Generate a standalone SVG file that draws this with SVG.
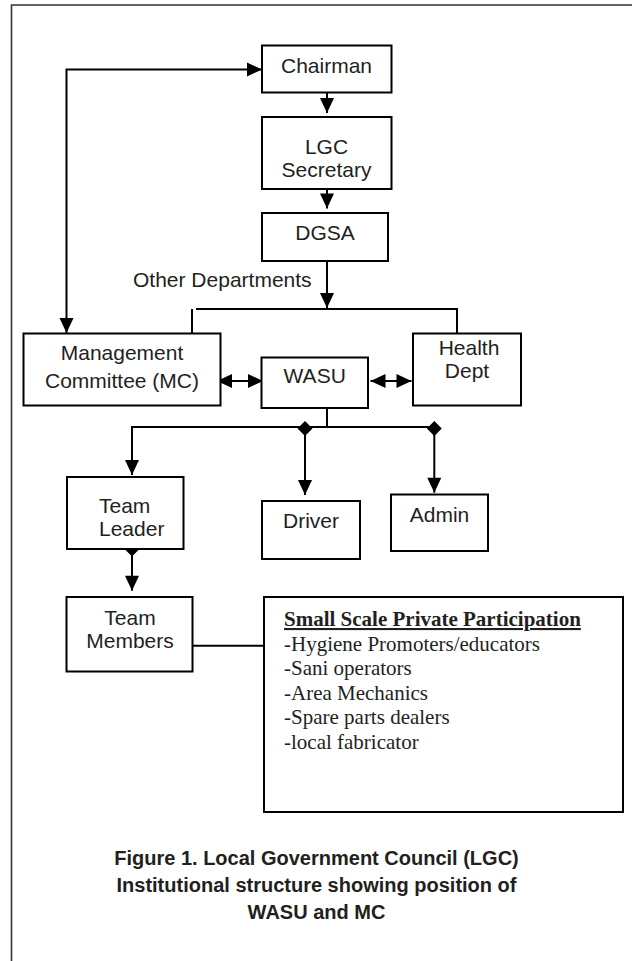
<svg xmlns="http://www.w3.org/2000/svg" width="632" height="961" viewBox="0 0 632 961">
<style>
.box{fill:#fff;stroke:#000;stroke-width:2}
.t{font-family:"Liberation Sans",Arial,sans-serif;font-size:21px;fill:#231f20}
.tm{text-anchor:middle}
.s{font-family:"Liberation Serif","Times New Roman",serif;font-size:21px;fill:#231f20}
.cap{font-family:"Liberation Sans",Arial,sans-serif;font-size:20px;font-weight:bold;fill:#231f20;text-anchor:middle}
.ln{fill:none;stroke:#000;stroke-width:2}
.ar{marker-end:url(#arrow)}
.dar{marker-start:url(#arrow);marker-end:url(#arrow)}
.dm{marker-start:url(#diamond);marker-end:url(#arrow)}
</style>
<defs>
<marker id="arrow" markerUnits="userSpaceOnUse" markerWidth="15" markerHeight="14" refX="15" refY="7" orient="auto-start-reverse" overflow="visible">
<path d="M0,0 L15,7 L0,14 Z" fill="#000"/>
</marker>
<marker id="diamond" markerUnits="userSpaceOnUse" markerWidth="15" markerHeight="15" refX="7.5" refY="7.5" orient="auto" overflow="visible">
<path d="M0,7.5 L7.5,0 L15,7.5 L7.5,15 Z" fill="#000"/>
</marker>
</defs>
<rect width="632" height="961" fill="#fff"/>
<path d="M11.5,961 V5 H632" fill="none" stroke="#333" stroke-width="1.6"/>

<g id="connectors">
<path class="ln dar" d="M66.5,333 V69.5 H262"/>
<path class="ln ar" d="M327,93 V113"/>
<path class="ln ar" d="M327,189 V208.5"/>
<path class="ln ar" d="M327,261 V308"/>
<path class="ln" d="M192,333 V309"/>
<path class="ln" d="M196,309 H457 V333"/>
<path class="ln dar" d="M217,381 H263"/>
<path class="ln dar" d="M370.5,381 H411.5"/>
<path class="ln" d="M327,408 V427 H434.3"/>
<path class="ln ar" d="M327,427 H132 V475"/>
<path class="ln dm" d="M305,428.5 V495"/>
<path class="ln dm" d="M434.3,428.5 V492.7"/>
<path class="ln dm" d="M132,549 V590.7"/>
<path class="ln" d="M192.7,645.7 H264"/>
</g>

<g id="chairman">
<rect class="box" x="262" y="45.5" width="129.5" height="47"/>
<text class="t tm" x="326.5" y="72.7">Chairman</text>
</g>
<g id="lgc-secretary">
<rect class="box" x="262" y="117" width="129.5" height="72"/>
<text class="t tm" x="326.5" y="153.5">LGC</text>
<text class="t tm" x="326.5" y="176.5">Secretary</text>
</g>
<g id="dgsa">
<rect class="box" x="262" y="213" width="126" height="48"/>
<text class="t tm" x="325" y="240">DGSA</text>
</g>
<g id="other-departments">
<text class="t" x="133" y="286.7">Other Departments</text>
</g>
<g id="management-committee">
<rect class="box" x="23.5" y="333.5" width="197" height="72"/>
<text class="t tm" x="122" y="360">Management</text>
<text class="t tm" x="122" y="388.3">Committee (MC)</text>
</g>
<g id="wasu">
<rect class="box" x="261.5" y="357.5" width="106.5" height="50.5"/>
<text class="t tm" x="314.7" y="383.3">WASU</text>
</g>
<g id="health-dept">
<rect class="box" x="413" y="333.5" width="108" height="72"/>
<text class="t tm" x="469" y="355">Health</text>
<text class="t tm" x="467" y="378">Dept</text>
</g>
<g id="team-leader">
<rect class="box" x="67" y="477" width="116.5" height="72"/>
<text class="t" x="99" y="513">Team</text>
<text class="t" x="99" y="536">Leader</text>
</g>
<g id="driver">
<rect class="box" x="262" y="501" width="98" height="58"/>
<text class="t tm" x="311" y="527.7">Driver</text>
</g>
<g id="admin">
<rect class="box" x="391" y="494.5" width="97" height="56.5"/>
<text class="t tm" x="439.5" y="521.7">Admin</text>
</g>
<g id="team-members">
<rect class="box" x="66.5" y="597" width="126" height="74.5"/>
<text class="t tm" x="130" y="625">Team</text>
<text class="t tm" x="130" y="648.3">Members</text>
</g>
<g id="small-scale">
<rect class="box" x="264" y="597" width="359" height="215"/>
<text class="s" x="284" y="626" font-weight="bold" text-decoration="underline">Small Scale Private Participation</text>
<text class="s" x="284" y="650.5">-Hygiene Promoters/educators</text>
<text class="s" x="284" y="675">-Sani operators</text>
<text class="s" x="284" y="699.5">-Area Mechanics</text>
<text class="s" x="284" y="724">-Spare parts dealers</text>
<text class="s" x="284" y="748.5">-local fabricator</text>
</g>
<g id="caption">
<text class="cap" x="316.5" y="865">Figure 1. Local Government Council (LGC)</text>
<text class="cap" x="316.5" y="892">Institutional structure showing position of</text>
<text class="cap" x="316.5" y="919">WASU and MC</text>
</g>
</svg>
